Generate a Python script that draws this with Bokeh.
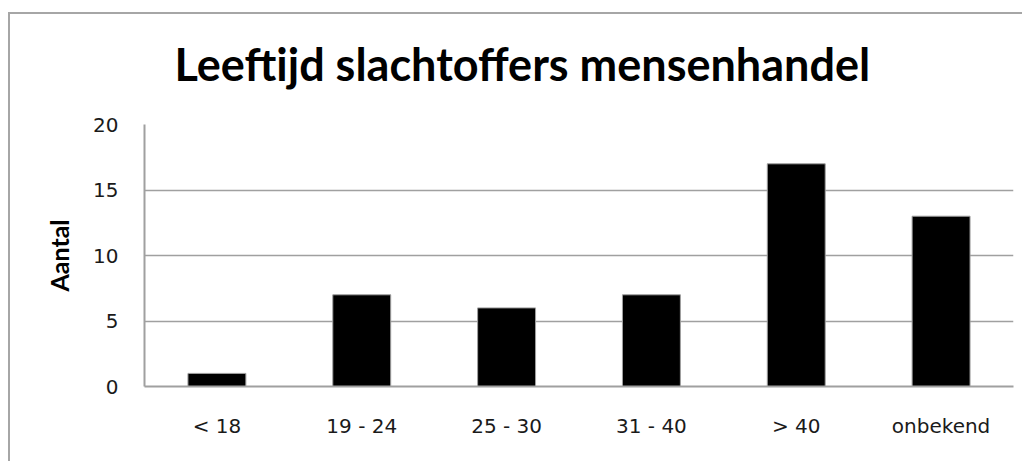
from bokeh.plotting import figure
from bokeh.models import FactorRange, Range1d, SingleIntervalTicker
from bokeh.embed import file_html
from bokeh.resources import INLINE

categories = ["< 18", "19 - 24", "25 - 30", "31 - 40", "> 40", "onbekend"]
aantal = [1, 7, 6, 7, 17, 13]
title_text = "Leeftijd slachtoffers mensenhandel"
y_label = "Aantal"

W, H = 1022, 461
p = figure(
    x_range=FactorRange(*categories, range_padding=0),
    y_range=Range1d(0, 20),
    width=W, height=H,
    output_backend="svg", toolbar_location=None,
    min_border_left=144, min_border_right=9,
    min_border_top=124, min_border_bottom=75,
)
p.margin = (0, 0, 0, 0)
border_css = "linear-gradient(#a6a6a6, #a6a6a6)"
p.styles = {
    "background": (f"{border_css} 8px 12px / 100% 2px no-repeat, "
                   f"{border_css} 8px 12px / 2px 100% no-repeat, white"),
}
p.outline_line_color = None
p.background_fill_color = "white"
p.border_fill_color = None

p.vbar(x=categories, top=aantal, width=0.4, fill_color="black",
       line_color="#a0a0a0", line_width=1)

grid_color = "#a0a0a0"
p.xgrid.grid_line_color = None
p.ygrid.grid_line_color = grid_color
p.ygrid.grid_line_width = 1.5
p.yaxis.ticker = SingleIntervalTicker(interval=5)

for ax in (p.xaxis[0], p.yaxis[0]):
    ax.axis_line_color = grid_color
    ax.axis_line_width = 2
    ax.major_tick_out = 0
    ax.major_tick_in = 0
    ax.minor_tick_out = 0
    ax.minor_tick_in = 0
    ax.major_label_text_font = "DejaVu Sans"
    ax.major_label_text_font_size = "20px"
    ax.major_label_text_color = "#1a1a1a"

p.yaxis.major_label_standoff = 26
p.xaxis.major_label_standoff = 27
p.yaxis.axis_label = y_label
p.yaxis.axis_label_text_font = "Lato"
p.yaxis.axis_label_text_font_style = "bold"
p.yaxis.axis_label_text_font_size = "25px"
p.yaxis.axis_label_text_color = "black"
p.yaxis.axis_label_standoff = 16

p.title.text = title_text
p.title.align = "left"
p.title.offset = 30
p.title.standoff = 67
p.title.text_font = "Lato"
p.title.text_font_style = "bold"
p.title.text_font_size = "45px"
p.title.text_color = "black"

open("out.html", "w").write(file_html(p, INLINE))
